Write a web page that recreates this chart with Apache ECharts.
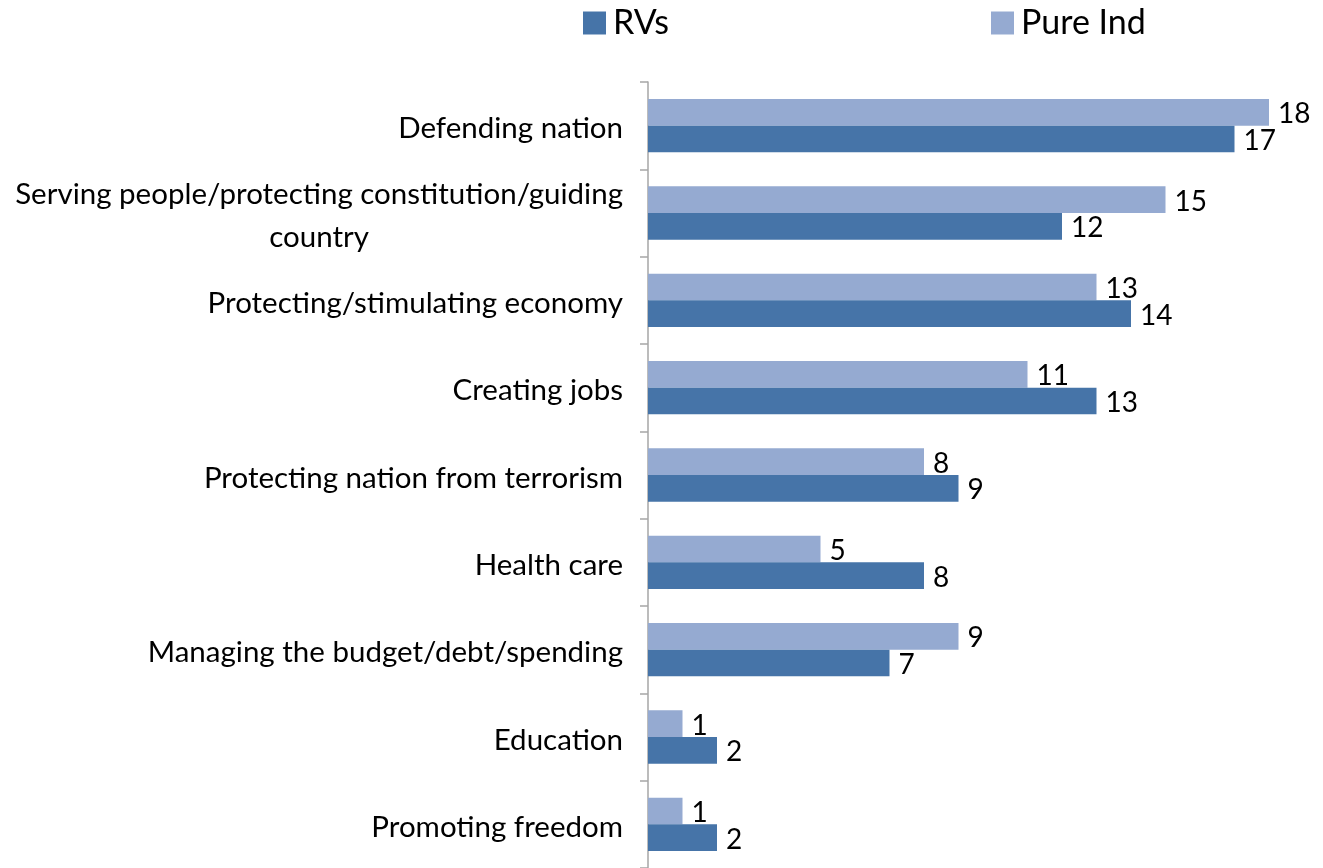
<!DOCTYPE html>
<html>
<head>
<meta charset="utf-8">
<script src="https://cdn.jsdelivr.net/npm/echarts@6/dist/echarts.min.js"></script>
<style>
  html, body { margin: 0; padding: 0; background: #ffffff; }
  #chart { width: 1323px; height: 868px; }
</style>
</head>
<body>
<div id="chart"></div>
<script>
// Categories, top to bottom
const categories = [
  'Defending nation',
  'Serving people/protecting constitution/guiding\ncountry',
  'Protecting/stimulating economy',
  'Creating jobs',
  'Protecting nation from terrorism',
  'Health care',
  'Managing the budget/debt/spending',
  'Education',
  'Promoting freedom'
];
const rvs     = [17, 12, 14, 13, 9, 8, 7, 2, 2];
const pureInd = [18, 15, 13, 11, 8, 5, 9, 1, 1];

const seriesNames = ['RVs', 'Pure Ind'];
const colors = { 'RVs': '#4674A8', 'Pure Ind': '#95AAD1' };
const FONT = 'Lato';

const chart = echarts.init(document.getElementById('chart'), null, { renderer: 'canvas' });

const labelStyle = {
  show: true,
  position: 'right',
  distance: 9,
  color: '#000',
  fontFamily: FONT,
  fontSize: 28,
  offset: [0, 2]
};

const legendCommon = {
  top: 1,
  itemWidth: 23,
  itemHeight: 23,
  itemGap: 12,
  icon: 'rect',
  textStyle: { fontFamily: FONT, fontSize: 34, color: '#000', padding: [0, 0, 0, 2] }
};

chart.setOption({
  animation: false,
  legend: [
    Object.assign({ left: 578, data: [seriesNames[0]] }, legendCommon),
    Object.assign({ left: 986, data: [seriesNames[1]] }, legendCommon)
  ],
  grid: { left: 648, right: 54, top: 82, bottom: 0, containLabel: false },
  xAxis: {
    type: 'value',
    min: 0,
    max: 18,
    show: false
  },
  yAxis: {
    type: 'category',
    data: categories,
    inverse: true,
    axisLine: { show: true, lineStyle: { color: '#A6A6A6', width: 1.5 } },
    axisTick: { show: true, length: 8, inside: false, lineStyle: { color: '#A6A6A6', width: 1.5 } },
    axisLabel: {
      margin: 25,
      color: '#000',
      fontFamily: FONT,
      fontSize: 29.5,
      lineHeight: 43,
      padding: [6, 0, 0, 0],
      formatter: function (v) {
        if (v.indexOf('\n') >= 0) {
          return v.split('\n').map(function (s) { return '{c|' + s + '}'; }).join('\n');
        }
        return v;
      },
      rich: {
        c: { align: 'center', fontFamily: FONT, fontSize: 29.5, lineHeight: 43, color: '#000' }
      }
    }
  },
  series: [
    {
      name: 'Pure Ind',
      type: 'bar',
      data: pureInd,
      itemStyle: { color: colors['Pure Ind'] },
      barGap: '0%',
      barCategoryGap: '39%',
      label: labelStyle
    },
    {
      name: 'RVs',
      type: 'bar',
      data: rvs,
      itemStyle: { color: colors['RVs'] },
      barGap: '0%',
      barCategoryGap: '39%',
      label: labelStyle
    }
  ]
});
</script>
</body>
</html>
